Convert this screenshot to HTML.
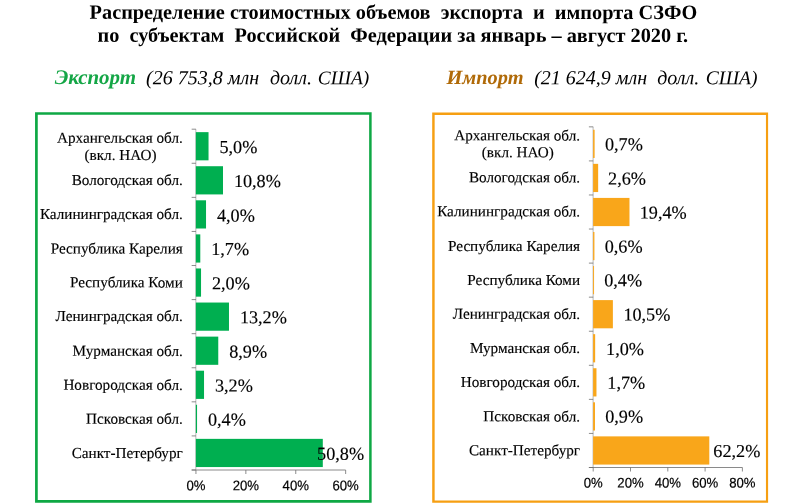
<!DOCTYPE html>
<html lang="ru"><head><meta charset="utf-8"><title>Экспорт и импорт СЗФО</title>
<style>
html,body{margin:0;padding:0;background:#fff}
svg{display:block}
text{font-family:"Liberation Serif",serif;fill:#000;white-space:pre}
.ttl{font-weight:bold;font-size:20.3px}
.sub{font-style:italic;font-size:20px}
.cat{font-size:15.2px;stroke:#000;stroke-width:0.15px}
.dl{font-size:18.2px;stroke:#000;stroke-width:0.15px}
.tk{font-family:"Liberation Sans",sans-serif;font-size:14px;stroke:#000;stroke-width:0.2px}
</style></head><body>
<svg width="787" height="504" viewBox="0 0 787 504">
<rect width="787" height="504" fill="#fff"/>
<text class="ttl" x="393.50" y="18.80" transform="rotate(0.03 393.50 18.80)" text-anchor="middle" xml:space="preserve">Распределение стоимостных объемов  экспорта  и  импорта СЗФО</text>
<text class="ttl" x="392.80" y="41.80" transform="rotate(0.03 392.80 41.80)" text-anchor="middle" xml:space="preserve">по  субъектам  Российской  Федерации за январь – август 2020 г.</text>
<text class="sub" x="54.70" y="84.00" transform="rotate(0.03 54.70 84.00)" style="font-size:20.95px;font-weight:bold;fill:#14a646">Экспорт</text>
<text class="sub" x="146.10" y="84.20" transform="rotate(0.03 146.10 84.20)" xml:space="preserve">(26 753,8 млн  <tspan dx="0.7">долл. </tspan><tspan dx="0.9" style="font-size:19.35px">США)</tspan></text>
<text class="sub" x="446.50" y="84.00" transform="rotate(0.03 446.50 84.00)" style="font-size:20.35px;font-weight:bold;fill:#b06a08">Импорт</text>
<text class="sub" x="534.20" y="84.20" transform="rotate(0.03 534.20 84.20)" xml:space="preserve">(21 624,9 млн  долл. <tspan dx="1.3" style="font-size:19.5px">США)</tspan></text>
<path fill="#0ea844" fill-rule="evenodd" d="M35.05 112.35H371.65V502.85H35.05ZM37.75 114.85V500.1H369.15V114.85Z"/>
<path fill="#f69f12" fill-rule="evenodd" d="M432.2 112.4H768.1V502.85H432.2ZM434.65 115V500.5H765.95V115Z"/>
<path d="M195.85 129.20V470.00" fill="none" stroke="#999" stroke-width="0.7"/>
<path d="M191.65 470.00H345.65" fill="none" stroke="#8a8a8a" stroke-width="1"/>
<path d="M191.65 129.20H195.95M191.65 163.28H195.95M191.65 197.36H195.95M191.65 231.44H195.95M191.65 265.52H195.95M191.65 299.60H195.95M191.65 333.68H195.95M191.65 367.76H195.95M191.65 401.84H195.95M191.65 435.92H195.95M191.65 470.00H195.95M195.95 470.00V474.00M245.85 470.00V474.00M295.75 470.00V474.00M345.65 470.00V474.00" fill="none" stroke="#707070" stroke-width="0.8"/>
<rect x="195.85" y="132.14" width="12.68" height="28.2" fill="#00af50"/>
<rect x="195.85" y="166.22" width="27.15" height="28.2" fill="#00af50"/>
<rect x="195.85" y="200.30" width="10.18" height="28.2" fill="#00af50"/>
<rect x="195.85" y="234.38" width="4.44" height="28.2" fill="#00af50"/>
<rect x="195.85" y="268.46" width="5.19" height="28.2" fill="#00af50"/>
<rect x="195.85" y="302.54" width="33.13" height="28.2" fill="#00af50"/>
<rect x="195.85" y="336.62" width="22.41" height="28.2" fill="#00af50"/>
<rect x="195.85" y="370.70" width="8.18" height="28.2" fill="#00af50"/>
<rect x="195.85" y="404.78" width="1.20" height="28.2" fill="#00af50"/>
<rect x="195.85" y="438.86" width="126.95" height="28.2" fill="#00af50"/>
<text class="tk" transform="translate(195.95 490.30) rotate(0.03) scale(0.94 1)" text-anchor="middle">0%</text>
<text class="tk" transform="translate(245.85 490.30) rotate(0.03) scale(0.94 1)" text-anchor="middle">20%</text>
<text class="tk" transform="translate(295.75 490.30) rotate(0.03) scale(0.94 1)" text-anchor="middle">40%</text>
<text class="tk" transform="translate(345.65 490.30) rotate(0.03) scale(0.94 1)" text-anchor="middle">60%</text>
<text class="cat" x="182.80" y="142.80" transform="rotate(0.03 182.80 142.80)" text-anchor="end">Архангельская обл.</text>
<text class="cat" x="120.50" y="160.00" transform="rotate(0.03 120.50 160.00)" text-anchor="middle">(вкл. НАО)</text>
<text class="cat" x="182.80" y="185.00" transform="rotate(0.03 182.80 185.00)" text-anchor="end">Вологодская обл.</text>
<text class="cat" x="182.80" y="219.00" transform="rotate(0.03 182.80 219.00)" text-anchor="end">Калининградская обл.</text>
<text class="cat" x="182.80" y="253.50" transform="rotate(0.03 182.80 253.50)" text-anchor="end">Республика Карелия</text>
<text class="cat" x="182.80" y="287.40" transform="rotate(0.03 182.80 287.40)" text-anchor="end">Республика Коми</text>
<text class="cat" x="182.80" y="321.00" transform="rotate(0.03 182.80 321.00)" text-anchor="end">Ленинградская обл.</text>
<text class="cat" x="182.80" y="355.90" transform="rotate(0.03 182.80 355.90)" text-anchor="end">Мурманская обл.</text>
<text class="cat" x="182.80" y="389.90" transform="rotate(0.03 182.80 389.90)" text-anchor="end">Новгородская обл.</text>
<text class="cat" x="182.80" y="423.80" transform="rotate(0.03 182.80 423.80)" text-anchor="end">Псковская обл.</text>
<text class="cat" x="182.80" y="458.00" transform="rotate(0.03 182.80 458.00)" text-anchor="end">Санкт-Петербург</text>
<text class="dl" x="219.42" y="153.10" transform="rotate(0.03 219.42 153.10)">5,0%</text>
<text class="dl" x="233.90" y="186.90" transform="rotate(0.03 233.90 186.90)">10,8%</text>
<text class="dl" x="216.93" y="221.60" transform="rotate(0.03 216.93 221.60)">4,0%</text>
<text class="dl" x="211.19" y="255.00" transform="rotate(0.03 211.19 255.00)">1,7%</text>
<text class="dl" x="211.94" y="289.20" transform="rotate(0.03 211.94 289.20)">2,0%</text>
<text class="dl" x="239.88" y="323.20" transform="rotate(0.03 239.88 323.20)">13,2%</text>
<text class="dl" x="229.16" y="357.40" transform="rotate(0.03 229.16 357.40)">8,9%</text>
<text class="dl" x="214.93" y="391.60" transform="rotate(0.03 214.93 391.60)">3,2%</text>
<text class="dl" x="207.95" y="425.60" transform="rotate(0.03 207.95 425.60)">0,4%</text>
<text class="dl" x="317.10" y="459.80" transform="rotate(0.03 317.10 459.80)">50,8%</text>
<path d="M593.10 126.85V467.50" fill="none" stroke="#999" stroke-width="0.7"/>
<path d="M588.90 467.50H742.40" fill="none" stroke="#8a8a8a" stroke-width="1"/>
<path d="M588.90 126.85H593.20M588.90 160.91H593.20M588.90 194.98H593.20M588.90 229.04H593.20M588.90 263.11H593.20M588.90 297.17H593.20M588.90 331.24H593.20M588.90 365.30H593.20M588.90 399.37H593.20M588.90 433.43H593.20M588.90 467.50H593.20M593.20 467.50V471.50M630.50 467.50V471.50M667.80 467.50V471.50M705.10 467.50V471.50M742.40 467.50V471.50" fill="none" stroke="#707070" stroke-width="0.8"/>
<rect x="593.10" y="129.78" width="1.51" height="28.2" fill="#f9a61a"/>
<rect x="593.10" y="163.85" width="5.05" height="28.2" fill="#f9a61a"/>
<rect x="593.10" y="197.91" width="36.38" height="28.2" fill="#f9a61a"/>
<rect x="593.10" y="231.98" width="1.32" height="28.2" fill="#f9a61a"/>
<rect x="593.10" y="266.04" width="0.95" height="28.2" fill="#f9a61a"/>
<rect x="593.10" y="300.11" width="19.78" height="28.2" fill="#f9a61a"/>
<rect x="593.10" y="334.17" width="2.06" height="28.2" fill="#f9a61a"/>
<rect x="593.10" y="368.24" width="3.37" height="28.2" fill="#f9a61a"/>
<rect x="593.10" y="402.30" width="1.88" height="28.2" fill="#f9a61a"/>
<rect x="593.10" y="436.37" width="116.20" height="28.2" fill="#f9a61a"/>
<text class="tk" transform="translate(593.20 487.45) rotate(0.03) scale(0.94 1)" text-anchor="middle">0%</text>
<text class="tk" transform="translate(630.50 487.45) rotate(0.03) scale(0.94 1)" text-anchor="middle">20%</text>
<text class="tk" transform="translate(667.80 487.45) rotate(0.03) scale(0.94 1)" text-anchor="middle">40%</text>
<text class="tk" transform="translate(705.10 487.45) rotate(0.03) scale(0.94 1)" text-anchor="middle">60%</text>
<text class="tk" transform="translate(742.40 487.45) rotate(0.03) scale(0.94 1)" text-anchor="middle">80%</text>
<text class="cat" x="580.10" y="140.40" transform="rotate(0.03 580.10 140.40)" text-anchor="end">Архангельская обл.</text>
<text class="cat" x="517.80" y="157.20" transform="rotate(0.03 517.80 157.20)" text-anchor="middle">(вкл. НАО)</text>
<text class="cat" x="580.10" y="182.40" transform="rotate(0.03 580.10 182.40)" text-anchor="end">Вологодская обл.</text>
<text class="cat" x="580.10" y="216.40" transform="rotate(0.03 580.10 216.40)" text-anchor="end">Калининградская обл.</text>
<text class="cat" x="580.10" y="251.00" transform="rotate(0.03 580.10 251.00)" text-anchor="end">Республика Карелия</text>
<text class="cat" x="580.10" y="285.00" transform="rotate(0.03 580.10 285.00)" text-anchor="end">Республика Коми</text>
<text class="cat" x="580.10" y="318.90" transform="rotate(0.03 580.10 318.90)" text-anchor="end">Ленинградская обл.</text>
<text class="cat" x="580.10" y="353.00" transform="rotate(0.03 580.10 353.00)" text-anchor="end">Мурманская обл.</text>
<text class="cat" x="580.10" y="387.00" transform="rotate(0.03 580.10 387.00)" text-anchor="end">Новгородская обл.</text>
<text class="cat" x="580.10" y="421.40" transform="rotate(0.03 580.10 421.40)" text-anchor="end">Псковская обл.</text>
<text class="cat" x="580.10" y="455.25" transform="rotate(0.03 580.10 455.25)" text-anchor="end">Санкт-Петербург</text>
<text class="dl" x="604.91" y="150.20" transform="rotate(0.03 604.91 150.20)">0,7%</text>
<text class="dl" x="608.05" y="184.60" transform="rotate(0.03 608.05 184.60)">2,6%</text>
<text class="dl" x="639.78" y="218.60" transform="rotate(0.03 639.78 218.60)">19,4%</text>
<text class="dl" x="604.72" y="252.60" transform="rotate(0.03 604.72 252.60)">0,6%</text>
<text class="dl" x="604.15" y="286.20" transform="rotate(0.03 604.15 286.20)">0,4%</text>
<text class="dl" x="623.38" y="320.60" transform="rotate(0.03 623.38 320.60)">10,5%</text>
<text class="dl" x="606.07" y="354.90" transform="rotate(0.03 606.07 354.90)">1,0%</text>
<text class="dl" x="607.37" y="388.80" transform="rotate(0.03 607.37 388.80)">1,7%</text>
<text class="dl" x="605.18" y="422.60" transform="rotate(0.03 605.18 422.60)">0,9%</text>
<text class="dl" x="713.30" y="456.90" transform="rotate(0.03 713.30 456.90)">62,2%</text>
</svg>
</body></html>
